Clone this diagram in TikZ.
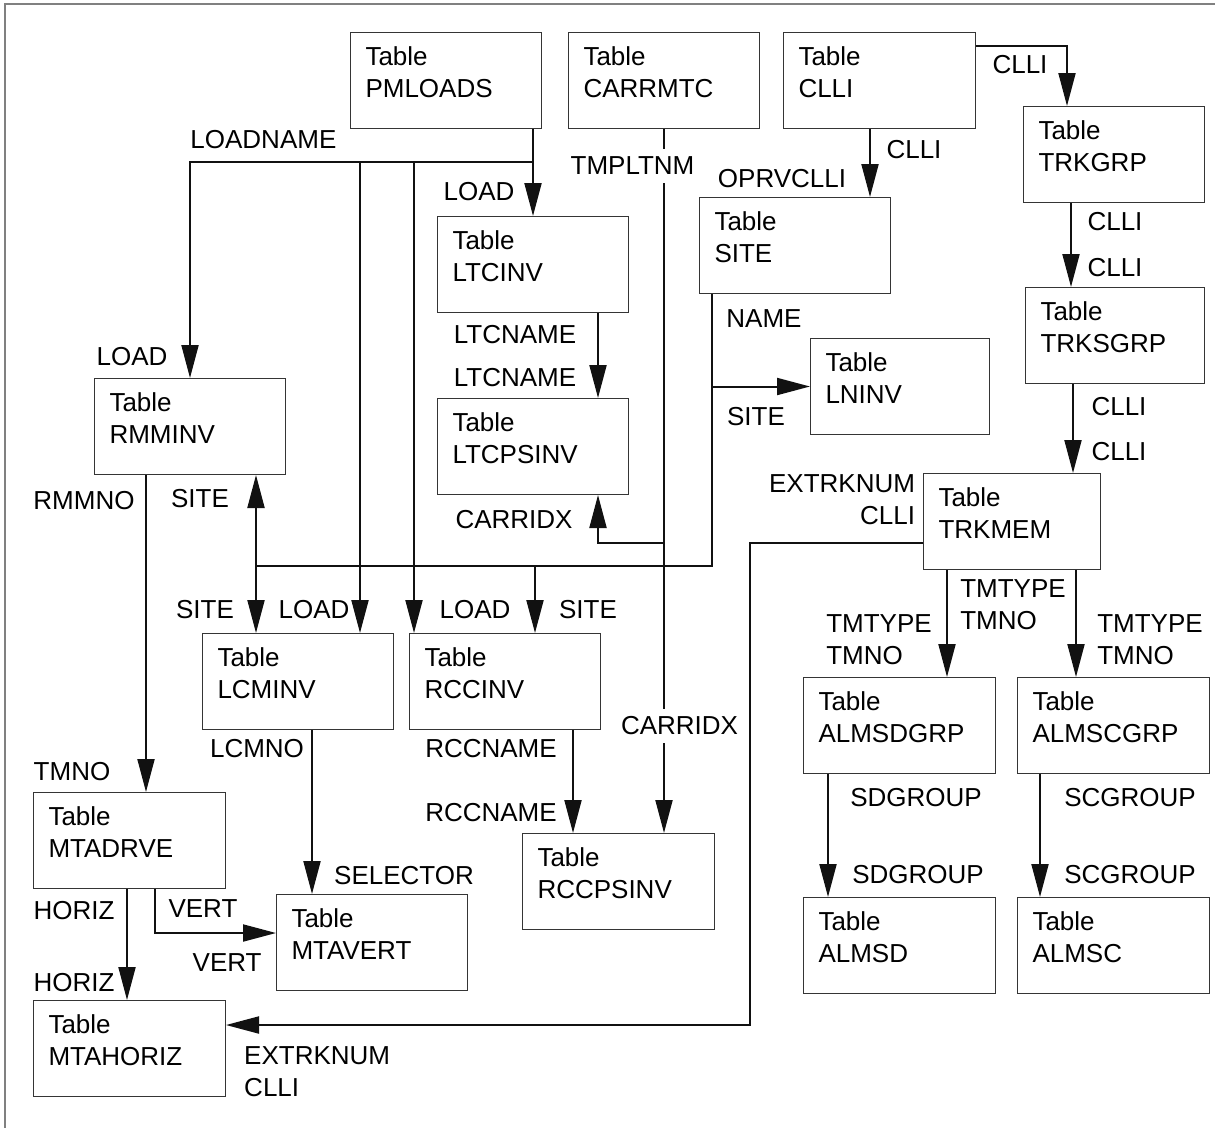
\documentclass[tikz,border=0pt]{standalone}
\usepackage{fontspec}
\setmainfont{Liberation Sans}
\usetikzlibrary{arrows.meta, calc, positioning}
\definecolor{ink}{HTML}{111111}
\definecolor{framegray}{HTML}{808080}
\tikzset{
  >={Triangle[length=33pt, width=17pt]},
  every picture/.style={line join=miter, font=\fontsize{26}{32}\selectfont},
  % table box: text sits in the upper part, left aligned
  tbl/.style={draw=ink!85, line width=1pt, anchor=north west, align=left,
              text width=#1, inner xsep=15pt, inner ysep=0pt,
              text height=33pt, text depth=63pt},
  tbl/.default=161pt,
  link/.style={draw=ink, line width=2pt},
  fld/.style={inner sep=0pt},
  cut/.style={fld, fill=white, inner xsep=2pt, inner ysep=8pt},
}

\begin{document}
\begin{tikzpicture}[x=1pt, y=-1pt]
  \useasboundingbox (0,0) rectangle (1215,1128);
  \draw[framegray, line width=1.5pt] (1215,4) -- (5,4) -- (5,1128);
  % tables
  \node[tbl] (pmloads) at (350,32) {Table\\PMLOADS};
  \node[tbl] (carrmtc) at (568,32) {Table\\CARRMTC};
  \node[tbl=162pt] (clli) at (783,32) {Table\\CLLI};
  \node[tbl=151pt] (trkgrp) at (1023,106) {Table\\TRKGRP};
  \node[tbl] (site) at (699,197) {Table\\SITE};
  \node[tbl] (ltcinv) at (437,216) {Table\\LTCINV};
  \node[tbl=149pt] (lninv) at (810,338) {Table\\LNINV};
  \node[tbl=149pt] (trksgrp) at (1025,287) {Table\\TRKSGRP};
  \node[tbl] (rmminv) at (94,378) {Table\\RMMINV};
  \node[tbl] (ltcpsinv) at (437,398) {Table\\LTCPSINV};
  \node[tbl=147pt] (trkmem) at (923,473) {Table\\TRKMEM};
  \node[tbl] (lcminv) at (202,633) {Table\\LCMINV};
  \node[tbl] (rccinv) at (409,633) {Table\\RCCINV};
  \node[tbl=162pt] (almsdgrp) at (803,677) {Table\\ALMSDGRP};
  \node[tbl=162pt] (almscgrp) at (1017,677) {Table\\ALMSCGRP};
  \node[tbl=162pt] (mtadrve) at (33,792) {Table\\MTADRVE};
  \node[tbl=162pt] (rccpsinv) at (522,833) {Table\\RCCPSINV};
  \node[tbl] (mtavert) at (276,894) {Table\\MTAVERT};
  \node[tbl=162pt] (almsd) at (803,897) {Table\\ALMSD};
  \node[tbl=162pt] (almsc) at (1017,897) {Table\\ALMSC};
  \node[tbl=162pt] (mtahoriz) at (33,1000) {Table\\MTAHORIZ};
  % junction points
  \coordinate (ldj) at (ltcinv.north |- 0,162);
  \coordinate (lcl) at ([xshift=158pt]lcminv.north west);
  \coordinate (rcl) at ([xshift=5pt]rccinv.north west);
  \coordinate (stj) at ([xshift=13pt]site.south west);
  \coordinate (sbus) at (stj |- 0,566);
  \coordinate (lcs) at ([xshift=54pt]lcminv.north west);
  \coordinate (rcs) at ([xshift=126pt]rccinv.north west);
  \coordinate (cxj) at (carrmtc.south |- 0,543);
  \coordinate (cs) at ([xshift=87pt]clli.south west);
  \coordinate (tg) at ([xshift=48pt]trkgrp.south west);
  \coordinate (ts) at ([xshift=48pt]trksgrp.south west);
  \coordinate (tm1) at ([xshift=24pt]trkmem.south west);
  \coordinate (tm2) at ([xshift=153pt]trkmem.south west);
  \coordinate (sd) at ([xshift=25pt]almsdgrp.south west);
  \coordinate (sc) at ([xshift=23pt]almscgrp.south west);
  \coordinate (rm) at ([xshift=52pt]rmminv.south west);
  \coordinate (lc) at ([xshift=110pt]lcminv.south west);
  \coordinate (rc) at ([xshift=164pt]rccinv.south west);
  \coordinate (mh) at ([xshift=94pt]mtadrve.south west);
  \coordinate (mv) at ([xshift=122pt]mtadrve.south west);
  % PMLOADS
  \draw[link, ->] (pmloads.south -| ltcinv.north) -- node[fld, pos=0.72, xshift=-54pt] {LOAD} (ltcinv.north);
  \draw[link, ->] (ldj) -| node[fld, pos=0.393, yshift=22pt] {LOADNAME}
    node[fld, pos=0.951, xshift=-58pt] {LOAD} (rmminv.north);
  \draw[link, ->] (lcl |- ldj) -- node[fld, pos=0.951, xshift=-46pt] {LOAD} (lcl);
  \draw[link, ->] (rcl |- ldj) -- node[fld, pos=0.951, xshift=61pt] {LOAD} (rcl);
  % SITE
  \draw[link] (stj) -- node[fld, pos=0.092, xshift=52pt] {NAME} (sbus) -- (sbus -| lcs);
  \draw[link, ->] (stj |- lninv.west) -- node[fld, pos=0.449, yshift=-30pt] {SITE} (lninv.west);
  \draw[link, <->] (lcs |- rmminv.south) -- node[fld, pos=0.152, xshift=-56pt] {SITE}
    node[fld, pos=0.854, xshift=-51pt] {SITE} (lcs);
  \draw[link, ->] (rcs |- sbus) -- node[fld, pos=0.657, xshift=53pt] {SITE} (rcs);
  % CARRMTC
  \draw[link, ->] (carrmtc.south) -- node[cut, pos=0.0525, xshift=-31.5pt] {TMPLTNM}
    node[cut, pos=0.848, xshift=15.5pt] {CARRIDX} (carrmtc.south |- rccpsinv.north);
  \draw[link, ->] (cxj) -| node[fld, pos=0.745, xshift=-84pt] {CARRIDX} ([xshift=161pt]ltcpsinv.south west);
  \draw[link, ->] ([xshift=161pt]ltcinv.south west) -- node[fld, pos=0.253, xshift=-83pt] {LTCNAME}
    node[fld, pos=0.759, xshift=-83pt] {LTCNAME} ([xshift=161pt]ltcpsinv.north west);
  % CLLI and trunks
  \draw[link, ->] (cs) -- node[fld, pos=0.304, xshift=44pt] {CLLI}
    node[fld, pos=0.725, xshift=-88pt] {OPRVCLLI} (cs |- site.north);
  \draw[link, ->] ([yshift=-14pt]clli.north east) -| node[fld, pos=0.658, xshift=-47pt] {CLLI} ([xshift=44pt]trkgrp.north west);
  \draw[link, ->] (tg) -- node[fld, pos=0.224, xshift=44pt] {CLLI}
    node[fld, pos=0.765, xshift=44pt] {CLLI} (tg |- trksgrp.north);
  \draw[link, ->] (ts) -- node[fld, pos=0.256, xshift=46pt] {CLLI}
    node[fld, pos=0.756, xshift=46pt] {CLLI} (ts |- trkmem.north);
  \draw[link, ->] ([yshift=-70pt]trkmem.north west) -- node[fld, pos=0.468, yshift=43pt, align=right] {EXTRKNUM\\CLLI}
    ++(-173,0) |- node[fld, pos=0.913, yshift=-47pt, align=left] {EXTRKNUM\\CLLI} ([yshift=-25pt]mtahoriz.north east);
  \draw[link, ->] (tm1) -- node[fld, pos=0.651, xshift=-68pt, align=left] {TMTYPE\\TMNO}
    node[fld, pos=0.321, xshift=66pt, align=left] {TMTYPE\\TMNO} (tm1 |- almsdgrp.north);
  \draw[link, ->] (tm2) -- node[fld, pos=0.651, xshift=74pt, align=left] {TMTYPE\\TMNO} (tm2 |- almscgrp.north);
  \draw[link, ->] (sd) -- node[fld, pos=0.194, xshift=88pt] {SDGROUP}
    node[fld, pos=0.815, xshift=90pt] {SDGROUP} (sd |- almsd.north);
  \draw[link, ->] (sc) -- node[fld, pos=0.194, xshift=90pt] {SCGROUP}
    node[fld, pos=0.815, xshift=90pt] {SCGROUP} (sc |- almsc.north);
  % remote modules
  \draw[link, ->] (rm) -- node[fld, pos=0.079, xshift=-62pt] {RMMNO}
    node[fld, pos=0.937, xshift=-74pt] {TMNO} (rm |- mtadrve.north);
  \draw[link, ->] (lc) -- node[fld, pos=0.115, xshift=-55pt] {LCMNO}
    node[fld, pos=0.885, xshift=92pt] {SELECTOR} (lc |- mtavert.north);
  \draw[link, ->] (rc) -- node[fld, pos=0.183, xshift=-82pt] {RCCNAME}
    node[fld, pos=0.798, xshift=-82pt] {RCCNAME} (rc |- rccpsinv.north);
  \draw[link, ->] (mh) -- node[fld, pos=0.196, xshift=-53pt] {HORIZ}
    node[fld, pos=0.839, xshift=-53pt] {HORIZ} (mh |- mtahoriz.north);
  \draw[link, ->] (mv) |- node[fld, pos=0.222, xshift=48pt] {VERT}
    node[fld, pos=0.798, yshift=-30pt] {VERT} ([yshift=-39pt]mtavert.north west);
\end{tikzpicture}
\end{document}
